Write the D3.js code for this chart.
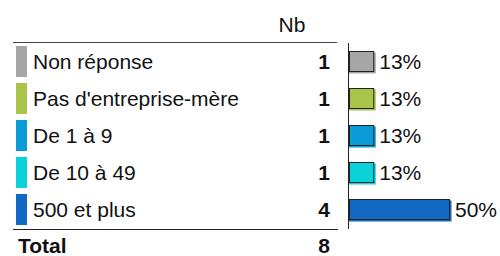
<!DOCTYPE html>
<html>
<head>
    <script src="https://d3js.org/d3.v7.min.js"></script>
    <style>
        body { margin: 0; background: #fff; }
        text { font-family: "Liberation Sans", Arial, sans-serif; font-size: 21px; fill: #111; }
        .bold { font-weight: bold; }
    </style>
</head>
<body>
<div id="chart"></div>
<script>
    // donnees
    const categories = ["Non réponse", "Pas d'entreprise-mère", "De 1 à 9", "De 10 à 49", "500 et plus"];
    const counts = [1, 1, 1, 1, 4];
    const colors = ["#a6a6a6", "#a8c44a", "#0b9cd8", "#0bd2da", "#1169c4"];
    const totalLabel = "Total";
    const headerLabel = "Nb";

    const W = 500, H = 256;
    const total = d3.sum(counts);
    const shares = counts.map(c => c / total);

    const svg = d3.select("#chart").append("svg")
        .attr("width", W).attr("height", H);

    // lignes du tableau
    const y = d3.scaleBand()
        .domain(categories)
        .range([43, 228])
        .paddingInner(0.16)
        .paddingOuter(0.08);

    const x = d3.scaleLinear()
        .domain([0, 1])
        .range([349, 551]);

    // en-tete
    svg.append("text")
        .attr("x", 292).attr("y", 32)
        .attr("text-anchor", "middle")
        .text(headerLabel);

    svg.append("line")
        .attr("x1", 13).attr("x2", 337)
        .attr("y1", 42.5).attr("y2", 42.5)
        .attr("stroke", "#444");

    svg.append("line")
        .attr("x1", 13).attr("x2", 338)
        .attr("y1", 229.5).attr("y2", 229.5)
        .attr("stroke", "#222");

    const rows = svg.selectAll(".row")
        .data(categories)
        .enter().append("g")
        .attr("class", "row");

    rows.append("rect")
        .attr("x", 16).attr("width", 11)
        .attr("y", d => y(d))
        .attr("height", y.bandwidth())
        .attr("fill", (d, i) => colors[i]);

    rows.append("text")
        .attr("x", 33)
        .attr("y", d => y(d) + y.bandwidth() / 2 + 7.5)
        .text(d => d);

    rows.append("text")
        .attr("class", "bold")
        .attr("x", 330)
        .attr("text-anchor", "end")
        .attr("y", d => y(d) + y.bandwidth() / 2 + 7.5)
        .text((d, i) => counts[i]);

    // barres (ombre + barre)
    const bh = 21;
    rows.append("rect")
        .attr("x", x(0))
        .attr("y", d => y(d) + y.bandwidth() / 2 - bh / 2 + 1.5)
        .attr("width", (d, i) => x(shares[i]) - x(0) + 1.5)
        .attr("height", bh)
        .attr("fill", (d, i) => colors[i]);

    rows.append("rect")
        .attr("x", x(0) + 0.5)
        .attr("y", d => y(d) + y.bandwidth() / 2 - bh / 2 + 0.5)
        .attr("width", (d, i) => x(shares[i]) - x(0) - 1)
        .attr("height", bh - 1)
        .attr("fill", (d, i) => colors[i])
        .attr("stroke", "#222")
        .attr("stroke-width", 1);

    rows.append("text")
        .attr("x", (d, i) => x(shares[i]) + 5)
        .attr("y", d => y(d) + y.bandwidth() / 2 + 7.5)
        .text((d, i) => Math.round(shares[i] * 100) + "%");

    // axe vertical
    svg.append("line")
        .attr("x1", x(0) - 0.5).attr("x2", x(0) - 0.5)
        .attr("y1", 43).attr("y2", 229)
        .attr("stroke", "#222");

    // total
    svg.append("text")
        .attr("class", "bold")
        .attr("x", 18).attr("y", 253)
        .text(totalLabel);

    svg.append("text")
        .attr("class", "bold")
        .attr("x", 330).attr("y", 253)
        .attr("text-anchor", "end")
        .text(total);
</script>
</body>
</html>
